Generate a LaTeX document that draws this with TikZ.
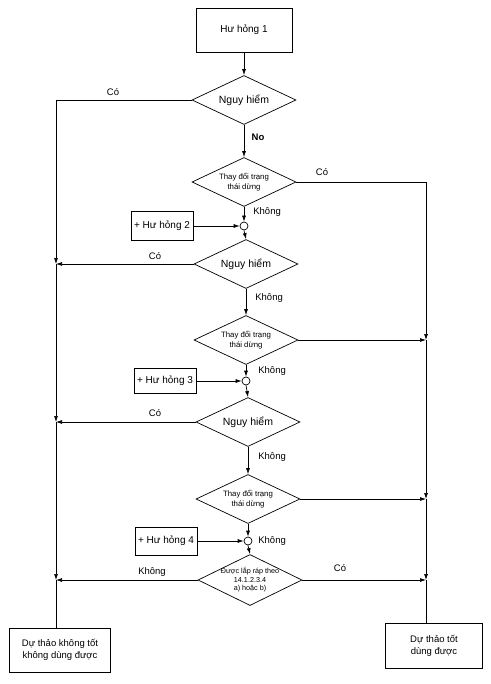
\documentclass[tikz,border=0pt]{standalone}
\usepackage{fontspec}
\setmainfont{Liberation Sans}
\usetikzlibrary{shapes.geometric,arrows.meta,calc}
\begin{document}
\begin{tikzpicture}[x=1pt,y=-1pt,
  line width=0.7pt,
  arr/.style={-{Latex[length=6pt,width=4pt]}},
  boxnode/.style={draw,rectangle,inner sep=0pt,align=center,font=\fontsize{10}{12}\selectfont},
  dia/.style={draw,diamond,inner sep=0pt,minimum width=104pt,minimum height=49pt},
  bigdia/.style={dia,label={[font=\fontsize{10.5}{12}\selectfont,align=center]center:#1}},
  smalldia/.style={dia,label={[font=\fontsize{7.8}{9.5}\selectfont,align=center]center:#1}},
  lbl/.style={font=\fontsize{9.5}{11}\selectfont,inner sep=1pt},
  junc/.style={draw,circle,fill=white,minimum size=8pt,inner sep=0pt}
]
\useasboundingbox (0,0) rectangle (490,684);

\coordinate (lx) at (56,0);
\coordinate (rx) at (426,0);

\node[boxnode,minimum width=96pt,minimum height=44pt] (b1) at (244,30) {Hư hỏng 1};
\node[bigdia={Nguy hiểm}] (d1) at (244,100) {};
\node[smalldia={Thay đổi trạng\\thái dừng}] (d2) at (244,182) {};
\node[junc] (c1) at (244,226) {};
\node[boxnode,minimum width=62pt,minimum height=29pt] (b2) at (162,226) {+ Hư hỏng 2};
\node[bigdia={Nguy hiểm}] (d3) at (246,264) {};
\node[smalldia={Thay đổi trạng\\thái dừng}] (d4) at (246,340) {};
\node[junc] (c2) at (246,381) {};
\node[boxnode,minimum width=62pt,minimum height=25pt] (b3) at (165,381) {+ Hư hỏng 3};
\node[bigdia={Nguy hiểm}] (d5) at (248,422) {};
\node[smalldia={Thay đổi trạng\\thái dừng}] (d6) at (248,499) {};
\node[junc] (c3) at (248,541) {};
\node[boxnode,minimum width=62pt,minimum height=28pt] (b4) at (166,541) {+ Hư hỏng 4};
\node[dia,minimum height=51pt,label={[font=\fontsize{7.2}{8.6}\selectfont,align=center]center:Được lắp ráp theo\\14.1.2.3.4\\a) hoặc b)}] (d7) at (250,580) {};
\node[boxnode,minimum width=101pt,minimum height=44pt,font=\fontsize{9.5}{12}\selectfont] (bl) at (60,650) {Dự thảo không tốt\\không dùng được};
\node[boxnode,minimum width=97pt,minimum height=45pt,font=\fontsize{9.5}{12}\selectfont] (br) at (434,646) {Dự thảo tốt\\dùng được};

% main column
\draw[arr] (b1.south) -- (d1.north);
\draw[arr] (d1.south) -- (d2.north);
\draw[arr] (d2.south) -- (c1.north);
\draw[arr] (c1.south) -- (d3.north);
\draw[arr] (b2.east) -- (c1.west);
\draw[arr] (d3.south) -- (d4.north);
\draw[arr] (d4.south) -- (c2.north);
\draw[arr] (c2.south) -- (d5.north);
\draw[arr] (b3.east) -- (c2.west);
\draw[arr] (d5.south) -- (d6.north);
\draw[arr] (d6.south) -- (c3.north);
\draw[arr] (c3.south) -- (d7.north);
\draw[arr] (b4.east) -- (c3.west);

% left column
\draw (d1.west) -- (d1.west -| lx) coordinate (L1);
\draw[arr] (d3.west) -- (d3.west -| lx) coordinate (L2);
\draw[arr] (d5.west) -- (d5.west -| lx) coordinate (L3);
\draw[arr] (d7.west) -- (d7.west -| lx) coordinate (L4);
\draw[arr] (L1) -- (L2);
\draw[arr] (L2) -- (L3);
\draw[arr] (L3) -- (L4);
\draw (L4) -- (L4 |- bl.north);

% right column
\draw (d2.east) -- (d2.east -| rx) coordinate (R1);
\draw[arr] (d4.east) -- (d4.east -| rx) coordinate (R2);
\draw[arr] (d6.east) -- (d6.east -| rx) coordinate (R3);
\draw[arr] (d7.east) -- (d7.east -| rx) coordinate (R4);
\draw[arr] (R1) -- (R2);
\draw[arr] (R2) -- (R3);
\draw[arr] (R3) -- (R4);
\draw (R4) -- (R4 |- br.north);

% labels
\node[lbl] (t1) at (113,92) {Có};
\node[lbl,font=\fontsize{9.5}{11}\selectfont\bfseries] (t2) at (258,137) {No};
\node[lbl] (t3) at (322,172) {Có};
\node[lbl,anchor=west] (t4) at (252,212) {Không};
\node[lbl] (t5) at (155,256) {Có};
\node[lbl,anchor=west] (t6) at (254,298) {Không};
\node[lbl,anchor=west] (t7) at (257,371) {Không};
\node[lbl] (t8) at (155,413) {Có};
\node[lbl,anchor=west] (t9) at (257,457) {Không};
\node[lbl,anchor=west] (t10) at (257,541) {Không};
\node[lbl] (t11) at (152,572) {Không};
\node[lbl] (t12) at (340,568) {Có};
\end{tikzpicture}
\end{document}
